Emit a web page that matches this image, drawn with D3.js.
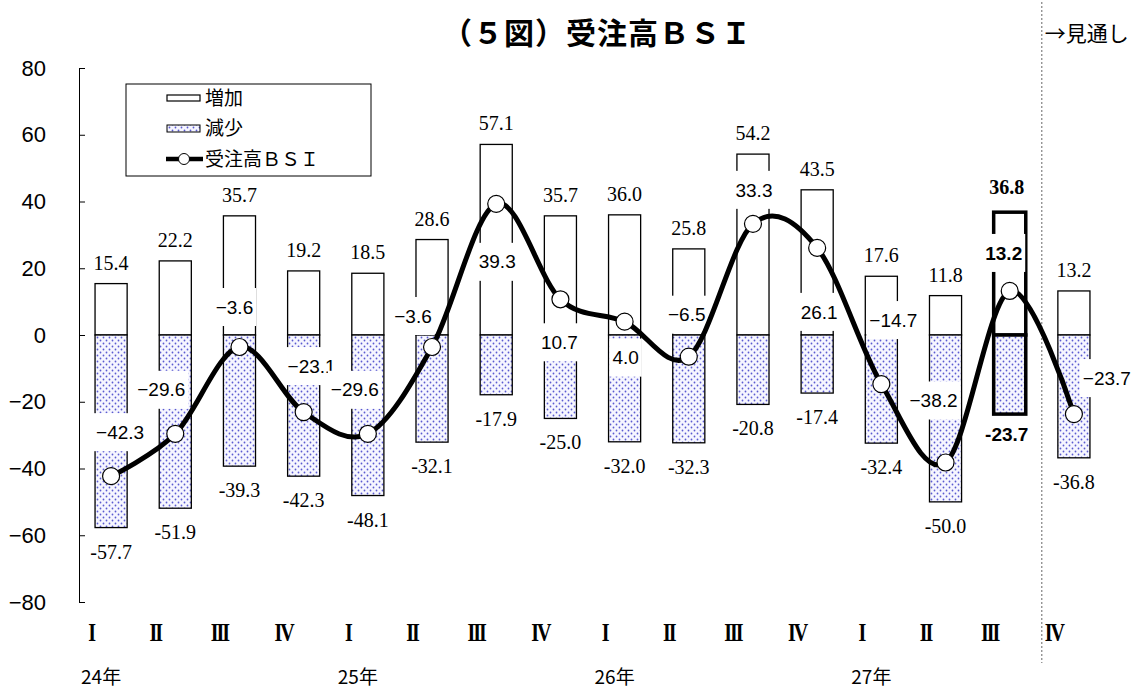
<!DOCTYPE html>
<html>
<head>
<meta charset="utf-8">
<script src="https://cdn.jsdelivr.net/npm/d3@7"></script>
<style>
  body { margin: 0; background: #fff; }
  svg { display: block; }
</style>
</head>
<body>
<svg id="chart" width="1140" height="691"></svg>
<script>
// ---- data ----
const quarterLabels = ["I","II","III","IV","I","II","III","IV","I","II","III","IV","I","II","III","IV"];
const yearLabels = ["24年", "25年", "26年", "27年"];
const increase = [15.4, 22.2, 35.7, 19.2, 18.5, 28.6, 57.1, 35.7, 36.0, 25.8, 54.2, 43.5, 17.6, 11.8, 36.8, 13.2];
const decrease = [-57.7, -51.9, -39.3, -42.3, -48.1, -32.1, -17.9, -25.0, -32.0, -32.3, -20.8, -17.4, -32.4, -50.0, -23.7, -36.8];
const bsi = [-42.3, -29.6, -3.6, -23.1, -29.6, -3.6, 39.3, 10.7, 4.0, -6.5, 33.3, 26.1, -14.7, -38.2, 13.2, -23.7];
const yTicks = [80, 60, 40, 20, 0, -20, -40, -60, -80];
const legendNames = ["増加", "減少", "受注高ＢＳＩ"];
const titleText = "（５図）受注高ＢＳＩ";
const outlookText = "→見通し";
const currentIndex = 14;   // latest actual quarter, outlined in bold
const outlookIndex = 15;   // first outlook quarter

// ---- layout ----
const W = 1140, H = 691;
const plotL = 79, plotR = 1106, plotT = 68, plotB = 602;
// pixel offsets of each BSI value label from its marker
const bsiLabelShift = [[9,-44],[-14,-44],[-5,-40],[8,-46],[-13,-44],[-19,-31],[1,58],[-1,43],
                       [1,36],[-2,-42],[1,-34],[2,64],[12,-64],[-12,-62],[-6,-38],[33,-36]];

const svg = d3.select("#chart");
const idx = d3.range(bsi.length);

const x = d3.scaleBand().domain(idx).range([plotL, plotR]).paddingInner(0.5).paddingOuter(0.25);
const y = d3.scaleLinear().domain([-80, 80]).range([plotB, plotT]);
const cx = i => x(i) + x.bandwidth() / 2;

const SERIF = "'Liberation Serif', 'Times New Roman', serif";
const SANS = "'Liberation Sans', Arial, sans-serif";
const JP = "'Noto Sans CJK JP', 'Noto Sans', sans-serif";

// dotted fill for the decrease bars
const defs = svg.append("defs");
const pat = defs.append("pattern").attr("id", "dots")
  .attr("width", 6).attr("height", 6).attr("patternUnits", "userSpaceOnUse");
pat.append("rect").attr("width", 6).attr("height", 6).attr("fill", "#f6f6ff");
pat.append("circle").attr("cx", 1.5).attr("cy", 1.5).attr("r", 0.9).attr("fill", "#5a5ad0");
pat.append("circle").attr("cx", 4.5).attr("cy", 4.5).attr("r", 0.9).attr("fill", "#5a5ad0");

// title and outlook marker
svg.append("text").attr("x", 597).attr("y", 33).attr("dy", "0.35em")
  .attr("text-anchor", "middle").attr("font-family", JP).attr("font-weight", "bold")
  .attr("font-size", 30).attr("letter-spacing", "1px").text(titleText);

const sepX = x(outlookIndex) - x.step() * x.paddingInner() / 2;
svg.append("line").attr("x1", sepX).attr("x2", sepX).attr("y1", 2).attr("y2", 663)
  .attr("stroke", "#666").attr("stroke-width", 1).attr("stroke-dasharray", "2,2");
svg.append("text").attr("x", sepX + 3).attr("y", 34).attr("dy", "0.35em")
  .attr("font-family", JP).attr("font-size", 21).text(outlookText);

// y axis with inward ticks
const yAxis = d3.axisLeft(y).tickValues(yTicks).tickSizeInner(-6).tickSizeOuter(-6).tickPadding(33);
const gy = svg.append("g").attr("transform", `translate(${plotL},0)`).call(yAxis);
gy.selectAll("path, line").attr("stroke", "#000").attr("stroke-width", 1);
gy.selectAll("text").attr("font-family", SANS).attr("font-size", 22).attr("fill", "#000");

// bars
const bars = svg.append("g");
idx.forEach(i => {
  const bw = i === currentIndex ? 3.5 : 1.3;
  bars.append("rect").attr("x", x(i)).attr("width", x.bandwidth())
    .attr("y", y(increase[i])).attr("height", y(0) - y(increase[i]))
    .attr("fill", "#fff").attr("stroke", "#000").attr("stroke-width", bw);
  bars.append("rect").attr("x", x(i)).attr("width", x.bandwidth())
    .attr("y", y(0)).attr("height", y(decrease[i]) - y(0))
    .attr("fill", "url(#dots)").attr("stroke", "#000").attr("stroke-width", bw);
});

// bar value labels
const hy = v => d3.format(".1f")(v).replace("−", "-");
const barLabels = svg.append("g");
idx.forEach(i => {
  const hi = i === currentIndex;
  barLabels.append("text").attr("x", cx(i) - (hi ? 3 : 0)).attr("y", y(increase[i]) - (hi ? 25 : 21))
    .attr("dy", "0.35em").attr("text-anchor", "middle")
    .attr("font-family", SERIF).attr("font-size", 20).attr("font-weight", hi ? "bold" : "normal")
    .text(hy(increase[i]));
  barLabels.append("text").attr("x", cx(i) - (hi ? 3 : 0)).attr("y", y(decrease[i]) + (hi ? 20 : 24))
    .attr("dy", "0.35em").attr("text-anchor", "middle")
    .attr("font-family", hi ? SANS : SERIF).attr("font-size", hi ? 19 : 20)
    .attr("font-weight", hi ? "bold" : "normal")
    .text(hy(decrease[i]));
});

// BSI labels on white boxes that cover the bars
const fmt = d3.format(".1f");
const bsiLabels = svg.append("g");
idx.forEach(i => {
  const g = bsiLabels.append("g");
  const hi = i === currentIndex;
  const lx = cx(i) + bsiLabelShift[i][0], ly = y(bsi[i]) + bsiLabelShift[i][1];
  const rect = g.append("rect").attr("fill", "#fff");
  const t = g.append("text").attr("x", lx).attr("y", ly).attr("dy", "0.35em")
    .attr("text-anchor", "middle").attr("font-family", SANS).attr("font-size", 19)
    .attr("font-weight", hi ? "bold" : "normal").text(fmt(bsi[i]));
  const bb = t.node().getBBox();
  rect.attr("x", bb.x - 3).attr("width", bb.width + 6).attr("y", ly - 19).attr("height", 38);
});

// BSI line with markers
const line = d3.line().x(i => cx(i)).y(i => y(bsi[i])).curve(d3.curveCatmullRom.alpha(0));
svg.append("path").attr("d", line(idx)).attr("fill", "none")
  .attr("stroke", "#000").attr("stroke-width", 5).attr("stroke-linejoin", "round");
svg.append("g").selectAll("circle").data(idx).join("circle")
  .attr("cx", i => cx(i)).attr("cy", i => y(bsi[i])).attr("r", 8.5)
  .attr("fill", "#fff").attr("stroke", "#000").attr("stroke-width", 1.2);

// x category labels: narrow, tall serif numerals
const xl = svg.append("g");
idx.forEach(i => {
  xl.append("g").attr("transform", `translate(${cx(i) - 20},632) scale(0.8,1)`)
    .append("text").attr("dy", "0.35em")
    .attr("text-anchor", "middle").attr("font-family", SERIF).attr("font-weight", "bold")
    .attr("font-size", 25).attr("letter-spacing", "-2.5px").text(quarterLabels[i]);
});
yearLabels.forEach((yl, k) => {
  xl.append("text").attr("x", cx(k * 4) - 10).attr("y", 677).attr("dy", "0.35em")
    .attr("text-anchor", "middle").attr("font-family", JP).attr("font-size", 19).text(yl);
});

// legend
const lg = svg.append("g");
lg.append("rect").attr("x", 126).attr("y", 84).attr("width", 245).attr("height", 92)
  .attr("fill", "#fff").attr("stroke", "#000").attr("stroke-width", 1);
lg.append("rect").attr("x", 167).attr("y", 95).attr("width", 33).attr("height", 6)
  .attr("fill", "#fff").attr("stroke", "#000").attr("stroke-width", 1.2);
lg.append("rect").attr("x", 167).attr("y", 125).attr("width", 33).attr("height", 7)
  .attr("fill", "url(#dots)").attr("stroke", "#000").attr("stroke-width", 1);
lg.append("line").attr("x1", 166).attr("x2", 203).attr("y1", 159).attr("y2", 159)
  .attr("stroke", "#000").attr("stroke-width", 4.5);
lg.append("circle").attr("cx", 184).attr("cy", 159).attr("r", 5.5)
  .attr("fill", "#fff").attr("stroke", "#000").attr("stroke-width", 1);
[98, 128, 159].forEach((ty, k) => {
  lg.append("text").attr("x", 205).attr("y", ty).attr("dy", "0.35em")
    .attr("font-family", JP).attr("font-size", 19).text(legendNames[k]);
});
</script>
</body>
</html>
